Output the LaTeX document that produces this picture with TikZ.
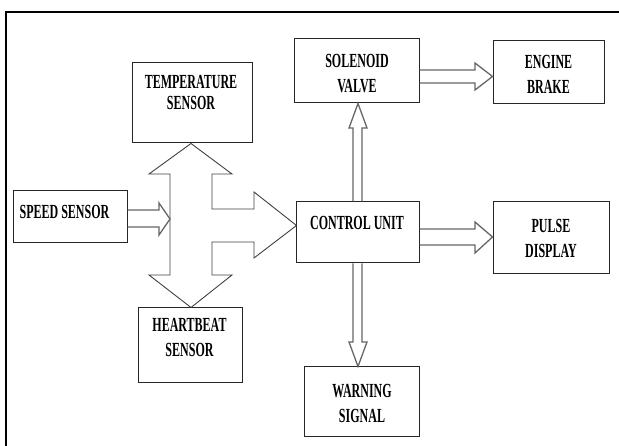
\documentclass[tikz,border=0pt]{standalone}
\usepackage{fontspec}
\newfontfamily\lblfont[FakeStretch=0.6]{Liberation Serif}
\usetikzlibrary{calc}
\begin{document}
\begin{tikzpicture}[x=1pt,y=-1pt,
  box/.style={draw=black!85,line width=1pt,inner sep=0pt,minimum width=#1},
  lbl/.style={font=\lblfont\bfseries\fontsize{20}{25}\selectfont,align=center,inner sep=0pt,text=black},
  arr/.style={draw=black!60,line width=1.3pt,line join=miter},
  bigarr/.style={draw=black!75,line width=0.9pt,line join=miter}]
\useasboundingbox (0,0) rectangle (619,446);
% frame
\draw[line width=2.2pt] (6,446) -- (6,12) -- (619,12);
% boxes
\node[box=120pt,minimum height=80pt] (temp) at (192,103) {};
\node[box=114pt,minimum height=52pt] (spd) at (70,217) {};
\node[box=104pt,minimum height=75pt] (heart) at (190,345.5) {};
\node[box=123pt,minimum height=61pt] (ctrl) at (357.5,232.5) {};
\node[box=125pt,minimum height=64pt] (sol) at (356.5,71) {};
\node[box=111pt,minimum height=63pt] (eng) at (548.5,72.5) {};
\node[box=116pt,minimum height=72pt] (pul) at (551,238) {};
\node[box=115pt,minimum height=70pt] (warn) at (361.5,402) {};
% labels
\node[lbl,font=\lblfont\bfseries\fontsize{20}{21.5}\selectfont,anchor=center] (tempT) at (191,92.5) {TEMPERATURE\\SENSOR};
\node[lbl] (spdT) at (64.5,212) {SPEED SENSOR};
\node[lbl] (heartT) at (189.5,337.5) {HEARTBEAT\\SENSOR};
\node[lbl] (ctrlT) at (357,222.5) {CONTROL UNIT};
\node[lbl] (solT) at (357,74) {SOLENOID\\VALVE};
\node[lbl] (engT) at (548.5,74) {ENGINE\\BRAKE};
\node[lbl] (pulT) at (551,238) {PULSE\\DISPLAY};
\node[lbl] (warnT) at (362,403) {WARNING\\SIGNAL};
% big double arrow with branch to control unit
\draw[bigarr] ($(temp.south)+(-1,0)$) -- (232,174) -- (212,174) -- (212,209) -- (254,209) -- (254,192)
  -- ($(ctrl.west)+(1,-7)$) -- (254,258) -- (254,242) -- (212,242) -- (212,275) -- (232,275)
  -- ($(heart.north)+(1,0)$) -- (149,275) -- (170,275) -- (170,174) -- (149,174) -- cycle;
% speed sensor arrow
\coordinate (sptip) at (170,219);
\draw[arr] ($(spd.east)+(0,-7)$) -- (159,210) -- (159,203) -- (sptip) -- (159,235) -- (159,227) -- ($(spd.east)+(0,10)$);
% control -> solenoid
\draw[arr] ($(ctrl.north)+(-4.5,0)$) -- (353,128) -- (349,128) -- ($(sol.south)+(1.5,0)$) -- (367,128) -- (362,128) -- ($(ctrl.north)+(4.5,0)$);
% solenoid -> engine brake
\draw[arr] ($(sol.east)+(0,-1)$) -- (475,70) -- (475,63) -- ($(eng.west)+(0,4)$) -- (475,90) -- (475,83) -- ($(sol.east)+(0,12)$);
% control -> pulse display
\draw[arr] ($(ctrl.east)+(0,-3.5)$) -- (475,229) -- (475,222) -- ($(pul.west)+(0,-1)$) -- (475,253) -- (475,245) -- ($(ctrl.east)+(0,12.5)$);
% control -> warning
\draw[arr] ($(ctrl.south)+(-4.5,0)$) -- (353,342) -- (349,342) -- ($(warn.north)+(-3.5,0)$) -- (367,342) -- (362,342) -- ($(ctrl.south)+(4.5,0)$);
\end{tikzpicture}
\end{document}
